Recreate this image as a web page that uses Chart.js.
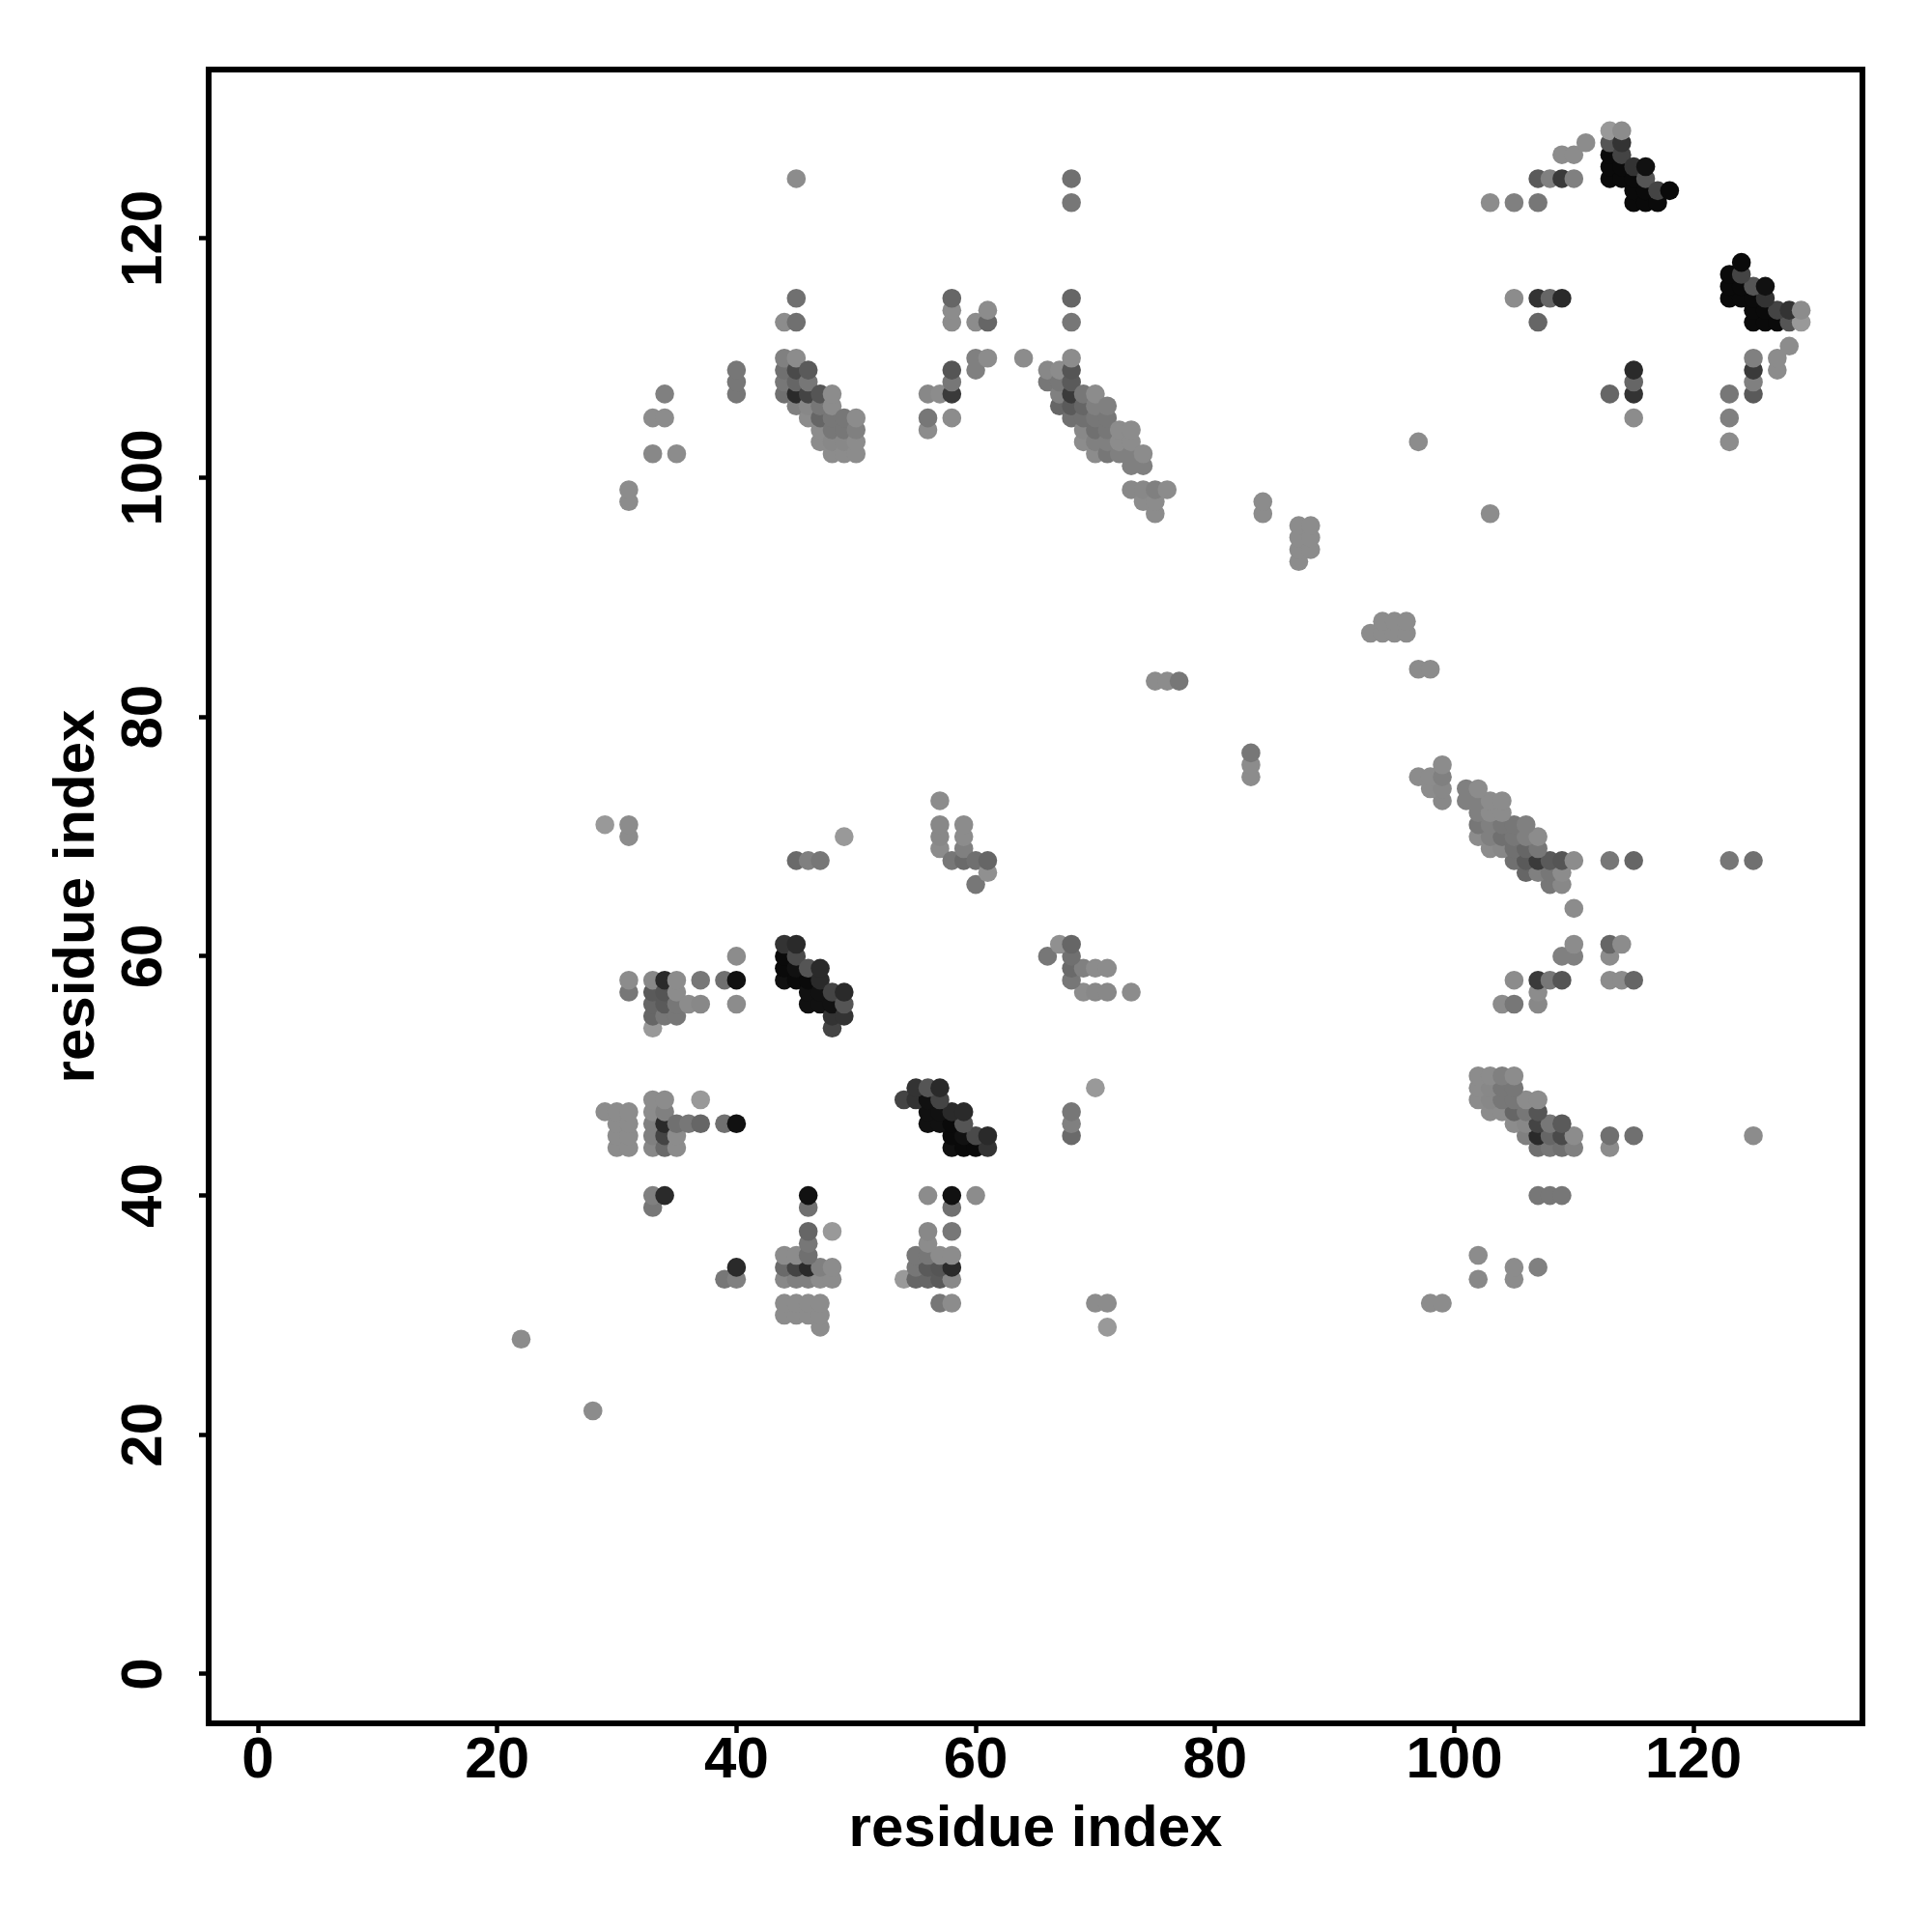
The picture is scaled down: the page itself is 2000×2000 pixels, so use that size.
<!DOCTYPE html>
<html>
<head>
<meta charset="utf-8">
<title>residue contact map</title>
<script src="https://cdn.jsdelivr.net/npm/chart.js@4"></script>
<style>
html, body { margin: 0; padding: 0; background: #fff; }
#wrap { width: 2000px; height: 2000px; }
</style>
</head>
<body>
<div id="wrap"><canvas id="contactMap" width="2000" height="2000"></canvas></div>
<script>
// contact map is symmetric, so only the i > j half is listed and mirrored below
var residueJ = [
    22,
    29,29,
    30,30,30,30,
    31,31,31,31,31,31,31,31,31,31,
    33,33,33,33,33,33,33,33,33,33,33,33,33,33,
    34,34,34,34,34,34,34,34,34,34,34,34,
    35,35,35,35,35,35,35,35,
    36,36,
    37,37,37,37,
    39,39,
    40,40,40,40,40,40,40,
    44,44,44,44,44,44,44,44,44,
    45,45,45,45,45,45,45,45,45,45,45,45,45,
    46,46,46,46,46,46,46,46,46,46,
    47,47,47,47,47,47,47,47,47,47,
    48,48,48,48,48,48,48,48,48,48,
    49,49,49,49,49,49,49,49,
    50,50,50,50,
    56,56,56,
    57,57,57,57,57,
    58,58,58,58,58,58,58,58,
    59,59,59,59,
    60,60,60,60,60,
    61,61,61,61,61,
    64,
    66,66,
    67,67,67,67,
    68,68,68,68,68,68,68,68,68,68,
    69,69,69,69,69,
    70,70,70,70,70,70,
    71,71,71,71,71,
    72,72,72,
    73,73,73,73,73,
    74,74,74,74,
    75,75,75,75,
    76,76,
    77,
    84,84,
    87,87,87,87,
    88,88,88,
    97,
    103,
    105,105,
    107,107,107,107,
    108,108,
    109,109,109,
    110,110,
    111,
    113,113,113,113,113,
    114,114,114,114,114,
    115,115,115,115,
    116,116,116,116,
    117,117,
    118
];
var residueI = [
    28,
    47,71,
    44,45,46,47,
    44,45,46,47,57,58,70,71,98,99,
    39,40,44,45,46,47,48,54,55,56,57,58,102,105,
    40,44,45,46,47,48,55,56,57,58,105,107,
    44,45,46,55,56,57,58,102,
    46,56,
    46,48,56,58,
    46,58,
    46,56,58,60,107,108,109,
    58,59,60,61,107,108,109,110,113,
    58,59,60,61,68,106,107,108,109,110,113,115,125,
    56,57,58,59,68,105,106,107,108,109,
    56,57,58,59,68,103,104,105,106,107,
    54,55,56,57,102,103,104,105,106,107,
    55,56,57,70,102,103,104,105,
    102,103,104,105,
    104,105,107,
    69,70,71,73,107,
    68,105,107,108,109,113,114,115,
    68,69,70,71,
    66,68,109,110,113,
    67,68,110,113,114,
    110,
    108,109,
    106,107,108,109,
    105,106,107,108,109,110,113,115,123,125,
    103,104,105,106,107,
    102,103,104,105,106,107,
    102,103,104,105,106,
    102,103,104,
    99,101,102,103,104,
    98,99,101,102,
    83,97,98,99,
    83,99,
    83,
    97,98,
    93,94,95,96,
    94,95,96,
    103,
    123,
    115,123,
    113,115,123,125,
    115,125,
    115,125,127,
    125,127,
    128,
    125,126,127,128,129,
    125,126,127,128,129,
    123,124,125,126,
    123,124,125,126,
    123,124,
    124
];
// gray level of each dot, 0 = black
var grayLevel = [
    140,
    140,153,
    140,140,140,140,
    140,140,140,140,119,140,140,140,140,140,
    119,128,136,128,128,140,140,153,102,102,90,136,136,140,
    42,106,68,42,128,140,119,90,85,42,140,128,
    140,140,112,119,119,140,140,140,
    119,140,
    102,153,136,119,
    112,112,
    17,140,17,140,119,119,119,
    17,10,10,51,112,119,112,128,140,
    10,17,74,42,106,128,42,102,74,140,112,112,140,
    17,17,10,85,128,140,136,68,119,90,
    17,17,42,42,119,140,140,102,119,85,
    68,51,17,68,140,136,119,119,140,140,
    51,85,42,153,140,136,119,119,
    140,140,128,140,
    140,119,136,
    140,136,136,140,140,
    119,140,58,119,85,140,140,102,
    106,128,140,140,
    119,112,128,128,140,
    144,102,140,102,140,
    140,
    119,136,
    102,128,119,140,
    112,90,58,90,85,140,119,102,119,112,
    140,136,112,102,119,
    140,128,112,119,128,140,
    119,128,119,119,128,
    128,140,140,
    136,128,128,140,140,
    140,136,128,140,
    140,140,140,128,
    140,140,
    119,
    140,140,
    140,140,140,140,
    140,140,140,
    140,
    140,
    140,128,
    102,51,119,90,
    102,128,
    42,58,140,
    128,140,
    140,
    10,10,10,85,153,
    10,10,68,51,140,
    10,10,10,51,
    10,10,85,17,
    10,68,
    10
];
var tickValues = [0, 20, 40, 60, 80, 100, 120];
var axisTitle = "residue index";
var axisMin = -4.12;
var axisMax = 134.12;

function contactPoints() {
    var points = [];
    for (var k = 0; k < residueI.length; k++) {
        points.push({x: residueI[k], y: residueJ[k]});
        points.push({x: residueJ[k], y: residueI[k]});
    }
    return points;
}

function contactColors() {
    var colors = [];
    for (var k = 0; k < grayLevel.length; k++) {
        var g = grayLevel[k];
        var c = "rgb(" + g + "," + g + "," + g + ")";
        colors.push(c, c);
    }
    return colors;
}

function axisOptions(fixSize, titlePadding, tickPadding) {
    return {
        type: "linear",
        min: axisMin,
        max: axisMax,
        afterBuildTicks: function(scale) {
            scale.ticks = tickValues.map(function(v) { return {value: v}; });
        },
        grid: {
            drawOnChartArea: false,
            drawTicks: true,
            tickLength: 10,
            tickWidth: 4.5,
            tickColor: "#000"
        },
        border: {display: false},
        ticks: {
            color: "#000",
            autoSkip: false,
            padding: tickPadding,
            font: {family: "'Liberation Sans'", size: 60, weight: "bold"},
            callback: function(v) { return String(v); }
        },
        title: {
            display: true,
            text: axisTitle,
            color: "#000",
            padding: titlePadding,
            font: {family: "'Liberation Sans'", size: 60, weight: "bold"}
        },
        afterFit: fixSize
    };
}

var xAxis = axisOptions(function(scale) { scale.height = 216; }, {top: 0, bottom: 70}, -7);
xAxis.ticks.maxRotation = 0;
xAxis.ticks.minRotation = 0;

var yAxis = axisOptions(function(scale) { scale.width = 216; }, {top: 44, bottom: 0}, 5);
yAxis.ticks.maxRotation = 90;
yAxis.ticks.minRotation = 90;
yAxis.ticks.crossAlign = "center";

// box around the plot area, R style
var framePlugin = {
    id: "frame",
    afterDatasetsDraw: function(chart) {
        var a = chart.chartArea;
        var ctx = chart.ctx;
        ctx.save();
        ctx.strokeStyle = "#000";
        ctx.lineWidth = 6;
        ctx.lineJoin = "miter";
        ctx.strokeRect(a.left, a.top, a.right - a.left, a.bottom - a.top);
        ctx.restore();
    }
};

new Chart(document.getElementById("contactMap"), {
    type: "scatter",
    data: {
        datasets: [{
            data: contactPoints(),
            pointBackgroundColor: contactColors(),
            pointBorderWidth: 0,
            pointRadius: 9.8,
            pointHoverRadius: 9.8
        }]
    },
    options: {
        responsive: false,
        animation: false,
        devicePixelRatio: 1,
        layout: {padding: {left: 0, top: 72, right: 72, bottom: 0}},
        plugins: {legend: {display: false}, tooltip: {enabled: false}},
        scales: {x: xAxis, y: yAxis}
    },
    plugins: [framePlugin]
});
</script>
</body>
</html>
